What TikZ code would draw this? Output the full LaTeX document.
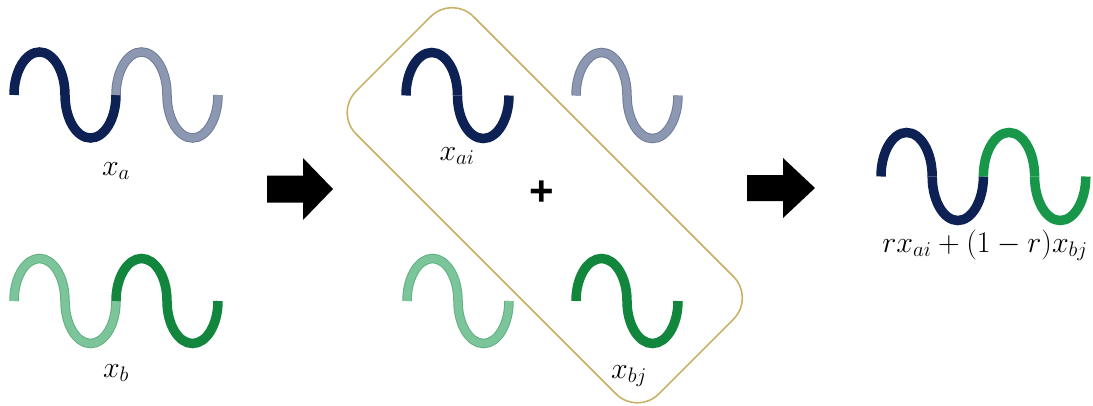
\RequirePackage{fix-cm}
\documentclass[tikz,border=0pt]{standalone}
\usepackage{fontspec}
\newfontfamily\lsans{Liberation Sans}
\definecolor{navy}{RGB}{13,33,84}
\definecolor{grayf}{RGB}{140,152,178}
\definecolor{grayb}{RGB}{112,124,152}
\definecolor{dgreen}{RGB}{18,134,60}
\definecolor{lgreenf}{RGB}{124,196,154}
\definecolor{lgreenb}{RGB}{96,176,130}
\definecolor{fgreen}{RGB}{24,150,74}
\definecolor{boxc}{RGB}{201,178,104}
\newcommand\wvhup[5]{\draw[#1] (#2,#3) arc[start angle=180,end angle=0,x radius=#4,y radius=#5];}
\newcommand\wvhdn[5]{\draw[#1] (#2,#3) arc[start angle=180,end angle=360,x radius=#4,y radius=#5];}
\begin{document}
\begin{tikzpicture}[x=1pt,y=1pt,
  wnavy/.style={line width=9.5pt,draw=navy},
  wdgreen/.style={line width=9.5pt,draw=dgreen},
  wfgreen/.style={line width=9.5pt,draw=fgreen},
  wgray/.style={draw=grayb,double=grayf,double distance=7.5pt,line width=1pt},
  wlgreen/.style={draw=lgreenb,double=lgreenf,double distance=7.5pt,line width=1pt},
  lbl/.style={font=\fontsize{30}{34}\selectfont,inner sep=0pt,anchor=base},
  bigarrow/.style={fill=black}]
\useasboundingbox (0,0) rectangle (1093,-405);
% x_a
\wvhup{wnavy}{14}{-95}{25.5}{43}
\wvhdn{wnavy}{65}{-95}{25.5}{43}
\wvhup{wgray}{116}{-95}{25.5}{43}
\wvhdn{wgray}{167}{-95}{25.5}{43}
\node[lbl] (la) at (116,-175) {$x_a$};
% x_b
\wvhup{wlgreen}{14}{-301}{25.5}{42.5}
\wvhdn{wlgreen}{65}{-301}{25.5}{42.5}
\wvhup{wdgreen}{116}{-301}{25.5}{42.5}
\wvhdn{wdgreen}{167}{-301}{25.5}{42.5}
\node[lbl] (lb) at (116,-377) {$x_b$};
% arrow 1
\fill[bigarrow] (267,-175.5) -- (303,-175.5) -- (303,-158) -- (333,-189) -- (303,-220) -- (303,-202.5) -- (267,-202.5) -- cycle;
% middle
\wvhup{wnavy}{406}{-95.5}{25.75}{43}
\wvhdn{wnavy}{457.5}{-95.5}{25.75}{43}
\node[lbl] (lai) at (457,-160) {$x_{ai}$};
\wvhup{wgray}{576}{-95.5}{25.5}{43}
\wvhdn{wgray}{627}{-95.5}{25.5}{43}
\wvhup{wlgreen}{407}{-301}{25.5}{42.5}
\wvhdn{wlgreen}{458}{-301}{25.5}{42.5}
\wvhup{wdgreen}{576}{-301}{25.5}{42.5}
\wvhdn{wdgreen}{627}{-301}{25.5}{42.5}
\node[lbl] (lbj) at (629,-378) {$x_{bj}$};
\node[inner sep=0pt] (plus) at (542,-193) {\lsans\bfseries\fontsize{42}{44}\selectfont +};
\node[draw=boxc,line width=1.6pt,rounded corners=30pt,minimum width=428pt,minimum height=166pt,rotate=-45] (box) at (544.75,-205.25) {};
% arrow 2
\fill[bigarrow] (747,-175) -- (783,-175) -- (783,-158) -- (815,-188) -- (783,-218) -- (783,-201) -- (747,-201) -- cycle;
% result
\wvhup{wnavy}{881}{-176.5}{25.6}{44}
\wvhdn{wnavy}{932.2}{-176.5}{25.6}{44}
\wvhup{wfgreen}{983.4}{-176.5}{25.6}{44}
\wvhdn{wfgreen}{1034.6}{-176.5}{25.6}{44}
\node[lbl] (lr) at (985,-252) {$rx_{ai}+(1-r)x_{bj}$};
\end{tikzpicture}
\end{document}
